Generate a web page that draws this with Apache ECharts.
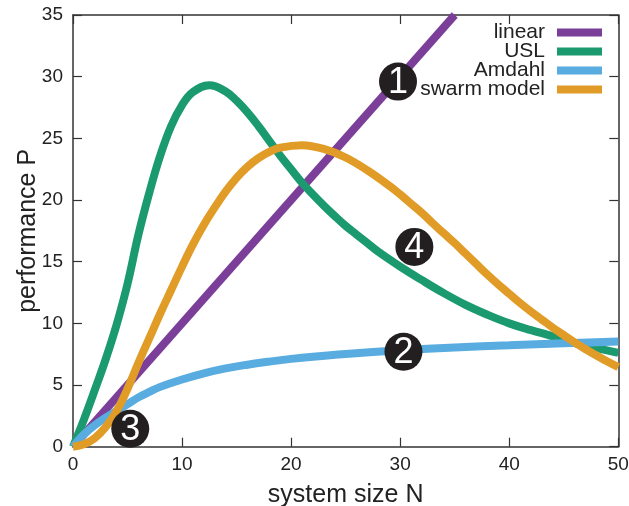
<!DOCTYPE html>
<html>
<head>
<meta charset="utf-8">
<script src="https://cdn.jsdelivr.net/npm/echarts@6/dist/echarts.min.js"></script>
<style>
html,body{margin:0;padding:0;background:#fff;}
#chart{width:629px;height:506px;}
</style>
</head>
<body>
<div id="chart"></div>
<script>
// ---- data ----
const seriesNames = ['linear', 'USL', 'Amdahl', 'swarm model'];
const xTicks = [0, 10, 20, 30, 40, 50];
const yTicks = [0, 5, 10, 15, 20, 25, 30, 35];

const linearData = [[0, 0], [35, 35]];

const uslData = [
  [0, 0], [1, 2.2], [2, 4.6], [3, 7.1], [4, 9.9], [5, 13.2], [6, 17.2], [7, 20.6],
  [8, 23.6], [9, 26.0], [10, 27.7], [11, 28.75], [12.5, 29.3], [14, 28.8],
  [15, 28.05], [16, 27.1], [17, 26.0], [18, 24.8], [19, 23.6], [20, 22.5], [21, 21.4],
  [22, 20.45], [23, 19.55], [24, 18.7], [25, 17.9], [26, 17.2], [27, 16.5], [28, 15.8],
  [30, 14.6], [32, 13.5], [34, 12.45], [36, 11.5], [38, 10.7], [40, 10.0], [42, 9.45],
  [44, 8.95], [46, 8.4], [48, 8.0], [50, 7.6]
];

const amdahlData = [
  [0, 0], [1, 1.0], [2, 1.75], [3, 2.35], [4, 2.9], [5, 3.45], [6, 4.0], [7, 4.45],
  [8, 4.85], [10, 5.45], [12, 5.95], [14, 6.35], [16, 6.65], [18, 6.9], [20, 7.12],
  [22, 7.3], [25, 7.52], [30, 7.82], [35, 8.05], [40, 8.22], [45, 8.38], [50, 8.52]
];

const swarmData = [
  [0, 0], [1, 0.2], [2, 0.7], [3, 1.6], [4, 2.9], [5, 4.7], [6, 6.8], [7, 8.8],
  [8, 10.8], [9, 12.7], [10, 14.6], [11, 16.4], [12, 18.0], [13, 19.4], [14, 20.7],
  [15, 21.8], [16, 22.7], [17, 23.4], [18, 23.9], [19, 24.25], [21, 24.45],
  [23, 24.15], [25, 23.45], [27, 22.4], [29, 21.15], [30, 20.45], [31, 19.7],
  [32, 18.95], [33, 18.1], [34, 17.3], [35, 16.5],
  [36, 15.65], [37, 14.8], [38, 13.95], [39, 13.15], [40, 12.4], [41, 11.65], [42, 10.95],
  [43, 10.3], [44, 9.65], [45, 9.05], [46, 8.45], [47, 7.9], [48, 7.4], [49, 6.9], [50, 6.45]
];

// numbered annotation markers: [N, P, label]
const markerData = [[29.8, 29.6, '1'], [30.3, 7.7, '2'], [5.25, 1.45, '3'], [31.3, 16.2, '4']];

// ---- styling ----
const colors = ['#7b3f99', '#1b9a6f', '#58acdf', '#e09c26'];
const FONT = '"Liberation Sans", Arial, Helvetica, sans-serif';
const TXT = '#222';
const AX = '#333';

const chart = echarts.init(document.getElementById('chart'), null, {renderer: 'canvas'});

function baseAxis(extra) {
  return Object.assign({
    type: 'value',
    splitLine: {show: false},
    nameMoveOverlap: false,
    axisLine: {show: true, onZero: false, lineStyle: {color: AX, width: 1.5}},
    axisTick: {show: true, inside: true, length: 9, lineStyle: {color: AX, width: 1.2}},
  }, extra);
}

const lineSeries = (name, data, color) => ({
  name: name,
  type: 'line',
  data: data,
  showSymbol: false,
  symbol: 'none',
  smooth: 0.4,
  clip: name === 'linear',
  lineStyle: {color: color, width: 8},
  itemStyle: {color: color},
  emphasis: {disabled: true},
  silent: true
});

chart.setOption({
  animation: false,
  backgroundColor: '#fff',
  textStyle: {fontFamily: FONT},
  grid: {left: 73, right: 10.7, top: 15, bottom: 59.3, containLabel: false, outerBoundsMode: 'none'},
  legend: {
    data: seriesNames.map(n => ({name: n, icon: 'rect'})),
    orient: 'vertical',
    align: 'right',
    right: 27,
    top: 22,
    itemWidth: 45,
    itemHeight: 8,
    itemGap: -2,
    padding: 0,
    selectedMode: false,
    textStyle: {fontSize: 21, lineHeight: 19, color: TXT, fontFamily: FONT, padding: [0, 7, 0, 0]}
  },
  xAxis: [
    baseAxis({
      position: 'bottom', min: xTicks[0], max: xTicks[xTicks.length - 1], interval: 10,
      name: 'system size N', nameLocation: 'middle', nameGap: 36,
      nameTextStyle: {fontSize: 25, color: TXT, fontFamily: FONT},
      axisLabel: {fontSize: 19, color: TXT, margin: 9, fontFamily: FONT}
    }),
    baseAxis({
      position: 'top', min: xTicks[0], max: xTicks[xTicks.length - 1], interval: 10,
      axisLabel: {show: false}
    })
  ],
  yAxis: [
    baseAxis({
      position: 'left', min: yTicks[0], max: yTicks[yTicks.length - 1], interval: 5,
      name: 'performance P', nameLocation: 'middle', nameGap: 32,
      nameTextStyle: {fontSize: 25, color: TXT, fontFamily: FONT},
      axisLabel: {fontSize: 19, color: TXT, margin: 10, fontFamily: FONT}
    }),
    baseAxis({
      position: 'right', min: yTicks[0], max: yTicks[yTicks.length - 1], interval: 5,
      axisLabel: {show: false}
    })
  ],
  series: [
    lineSeries(seriesNames[0], linearData, colors[0]),
    lineSeries(seriesNames[1], uslData, colors[1]),
    lineSeries(seriesNames[2], amdahlData, colors[2]),
    lineSeries(seriesNames[3], swarmData, colors[3]),
    {
      name: 'markers',
      type: 'scatter',
      data: markerData,
      symbol: 'circle',
      symbolSize: 38,
      z: 10,
      clip: false,
      silent: true,
      itemStyle: {color: '#231f20', opacity: 1},
      label: {
        show: true,
        position: 'inside',
        formatter: p => p.data[2],
        color: '#fff',
        fontSize: 36,
        fontFamily: FONT,
        offset: [0, 1]
      }
    }
  ]
});
</script>
</body>
</html>
